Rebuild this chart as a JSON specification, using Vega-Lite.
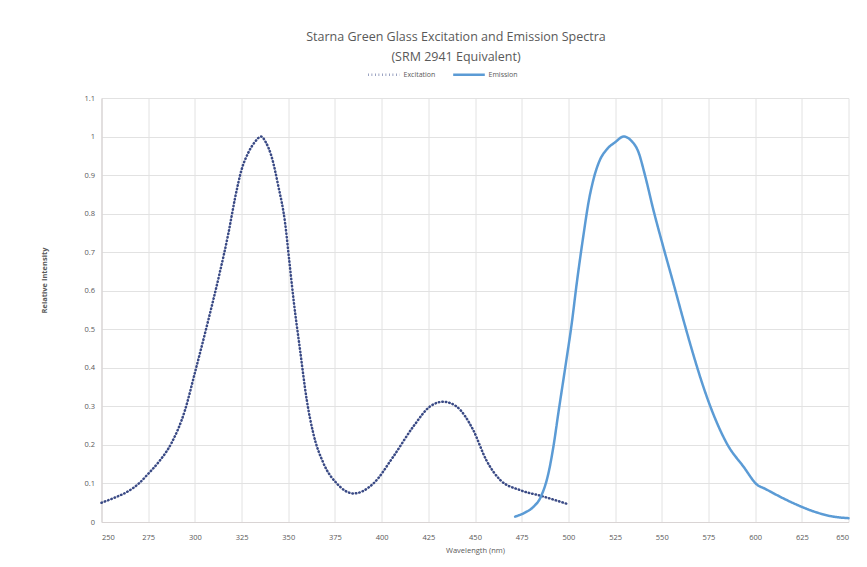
{
  "$schema": "https://vega.github.io/schema/vega-lite/v6.json",
  "width": 747,
  "height": 424,
  "autosize": {"type": "none"},
  "padding": {"left": 101.5, "top": 98, "right": 18.5, "bottom": 45},
  "background": "white",
  "title": {
    "text": ["Starna Green Glass Excitation and Emission Spectra", "(SRM 2941 Equivalent)"],
    "font": "Open Sans",
    "fontSize": 12.5,
    "fontWeight": "normal",
    "color": "#595959",
    "anchor": "middle",
    "frame": "group",
    "dx": -19,
    "offset": -6,
    "lineHeight": 20
  },
  "config": {
    "view": {"stroke": null},
    "axis": {
      "labelFont": "Open Sans",
      "labelFontSize": 7.5,
      "labelColor": "#595959",
      "titleFont": "Open Sans",
      "titleFontSize": 7.5,
      "titleColor": "#595959",
      "gridColor": "#E2E2E2",
      "gridWidth": 1,
      "domainColor": "#D9D4D4",
      "domainWidth": 1.2,
      "ticks": false
    },
    "legend": {
      "labelFont": "Open Sans",
      "labelFontSize": 7,
      "labelColor": "#595959"
    }
  },
  "data": {
    "values": [
      {"series": "Excitation", "nm": 250, "v": 0.05},
      {"series": "Excitation", "nm": 257, "v": 0.063},
      {"series": "Excitation", "nm": 264, "v": 0.079},
      {"series": "Excitation", "nm": 270, "v": 0.1},
      {"series": "Excitation", "nm": 275, "v": 0.125},
      {"series": "Excitation", "nm": 281, "v": 0.158},
      {"series": "Excitation", "nm": 287.5, "v": 0.205},
      {"series": "Excitation", "nm": 294.7, "v": 0.29},
      {"series": "Excitation", "nm": 300, "v": 0.387},
      {"series": "Excitation", "nm": 307, "v": 0.52},
      {"series": "Excitation", "nm": 313, "v": 0.64},
      {"series": "Excitation", "nm": 318, "v": 0.75},
      {"series": "Excitation", "nm": 321.5, "v": 0.84},
      {"series": "Excitation", "nm": 325, "v": 0.914},
      {"series": "Excitation", "nm": 328.6, "v": 0.958},
      {"series": "Excitation", "nm": 332, "v": 0.985},
      {"series": "Excitation", "nm": 335.5, "v": 1.0},
      {"series": "Excitation", "nm": 338, "v": 0.985},
      {"series": "Excitation", "nm": 341, "v": 0.949},
      {"series": "Excitation", "nm": 344.7, "v": 0.871},
      {"series": "Excitation", "nm": 348.3, "v": 0.776},
      {"series": "Excitation", "nm": 350.5, "v": 0.68},
      {"series": "Excitation", "nm": 353, "v": 0.57},
      {"series": "Excitation", "nm": 356.3, "v": 0.447},
      {"series": "Excitation", "nm": 359.9, "v": 0.317},
      {"series": "Excitation", "nm": 363.4, "v": 0.23},
      {"series": "Excitation", "nm": 368.8, "v": 0.153},
      {"series": "Excitation", "nm": 376, "v": 0.1},
      {"series": "Excitation", "nm": 385, "v": 0.074},
      {"series": "Excitation", "nm": 395.6, "v": 0.1},
      {"series": "Excitation", "nm": 406.3, "v": 0.17},
      {"series": "Excitation", "nm": 417, "v": 0.248},
      {"series": "Excitation", "nm": 426, "v": 0.3},
      {"series": "Excitation", "nm": 433, "v": 0.312},
      {"series": "Excitation", "nm": 440, "v": 0.3},
      {"series": "Excitation", "nm": 449, "v": 0.239},
      {"series": "Excitation", "nm": 456, "v": 0.161},
      {"series": "Excitation", "nm": 463.5, "v": 0.109},
      {"series": "Excitation", "nm": 474, "v": 0.083},
      {"series": "Excitation", "nm": 486, "v": 0.067},
      {"series": "Excitation", "nm": 500, "v": 0.046},
      {"series": "Emission", "nm": 471.5, "v": 0.014},
      {"series": "Emission", "nm": 477, "v": 0.025},
      {"series": "Emission", "nm": 481, "v": 0.038},
      {"series": "Emission", "nm": 485.5, "v": 0.068},
      {"series": "Emission", "nm": 489.3, "v": 0.126},
      {"series": "Emission", "nm": 492, "v": 0.196},
      {"series": "Emission", "nm": 494.7, "v": 0.285},
      {"series": "Emission", "nm": 498.3, "v": 0.4},
      {"series": "Emission", "nm": 501.8, "v": 0.515},
      {"series": "Emission", "nm": 504.5, "v": 0.62},
      {"series": "Emission", "nm": 508.1, "v": 0.745},
      {"series": "Emission", "nm": 511, "v": 0.835},
      {"series": "Emission", "nm": 513.5, "v": 0.89},
      {"series": "Emission", "nm": 516.5, "v": 0.935},
      {"series": "Emission", "nm": 520.6, "v": 0.967},
      {"series": "Emission", "nm": 525, "v": 0.985},
      {"series": "Emission", "nm": 529.6, "v": 1.0},
      {"series": "Emission", "nm": 533.5, "v": 0.99},
      {"series": "Emission", "nm": 537.5, "v": 0.96},
      {"series": "Emission", "nm": 541, "v": 0.9},
      {"series": "Emission", "nm": 545.5, "v": 0.81},
      {"series": "Emission", "nm": 550.8, "v": 0.714},
      {"series": "Emission", "nm": 556.2, "v": 0.62},
      {"series": "Emission", "nm": 561.5, "v": 0.526},
      {"series": "Emission", "nm": 566.8, "v": 0.436},
      {"series": "Emission", "nm": 572.2, "v": 0.352},
      {"series": "Emission", "nm": 576, "v": 0.3},
      {"series": "Emission", "nm": 580.2, "v": 0.25},
      {"series": "Emission", "nm": 584.8, "v": 0.204},
      {"series": "Emission", "nm": 593.7, "v": 0.144},
      {"series": "Emission", "nm": 601.5, "v": 0.095},
      {"series": "Emission", "nm": 605, "v": 0.087},
      {"series": "Emission", "nm": 610, "v": 0.074},
      {"series": "Emission", "nm": 620.4, "v": 0.049},
      {"series": "Emission", "nm": 631, "v": 0.028},
      {"series": "Emission", "nm": 641.8, "v": 0.014},
      {"series": "Emission", "nm": 650, "v": 0.01}
    ]
  },
  "mark": {"type": "line", "interpolate": "monotone", "strokeWidth": 2.5, "strokeCap": "round"},
  "encoding": {
    "x": {
      "field": "nm",
      "type": "quantitative",
      "scale": {"domain": [250, 650], "nice": false, "zero": false},
      "axis": {
        "values": [250, 275, 300, 325, 350, 375, 400, 425, 450, 475, 500, 525, 550, 575, 600, 625, 650],
        "title": "Wavelength (nm)",
        "titleFontWeight": "normal",
        "labelPadding": 11,
        "titlePadding": 6,
        "format": "d"
      }
    },
    "y": {
      "field": "v",
      "type": "quantitative",
      "scale": {"domain": [0, 1.1], "nice": false},
      "axis": {
        "values": [0, 0.1, 0.2, 0.3, 0.4, 0.5, 0.6, 0.7, 0.8, 0.9, 1, 1.1],
        "format": ".1~f",
        "title": "Relative Intensity",
        "titleFontWeight": "bold",
        "labelPadding": 7,
        "titleX": -53,
        "titleY": 182,
        "titleAnchor": null
      }
    },
    "color": {
      "field": "series",
      "type": "nominal",
      "scale": {"domain": ["Excitation", "Emission"], "range": ["#3A4A85", "#5B9BD5"]},
      "legend": {
        "title": null,
        "orient": "none",
        "direction": "horizontal",
        "legendX": 265,
        "legendY": -41,
        "symbolSize": 1000,
        "symbolStrokeWidth": 2.5,
        "columnPadding": 12,
        "labelOffset": 2
      }
    },
    "strokeDash": {
      "field": "series",
      "type": "nominal",
      "scale": {"domain": ["Excitation", "Emission"], "range": [[0.5, 3], [1, 0]]},
      "legend": null
    }
  }
}
